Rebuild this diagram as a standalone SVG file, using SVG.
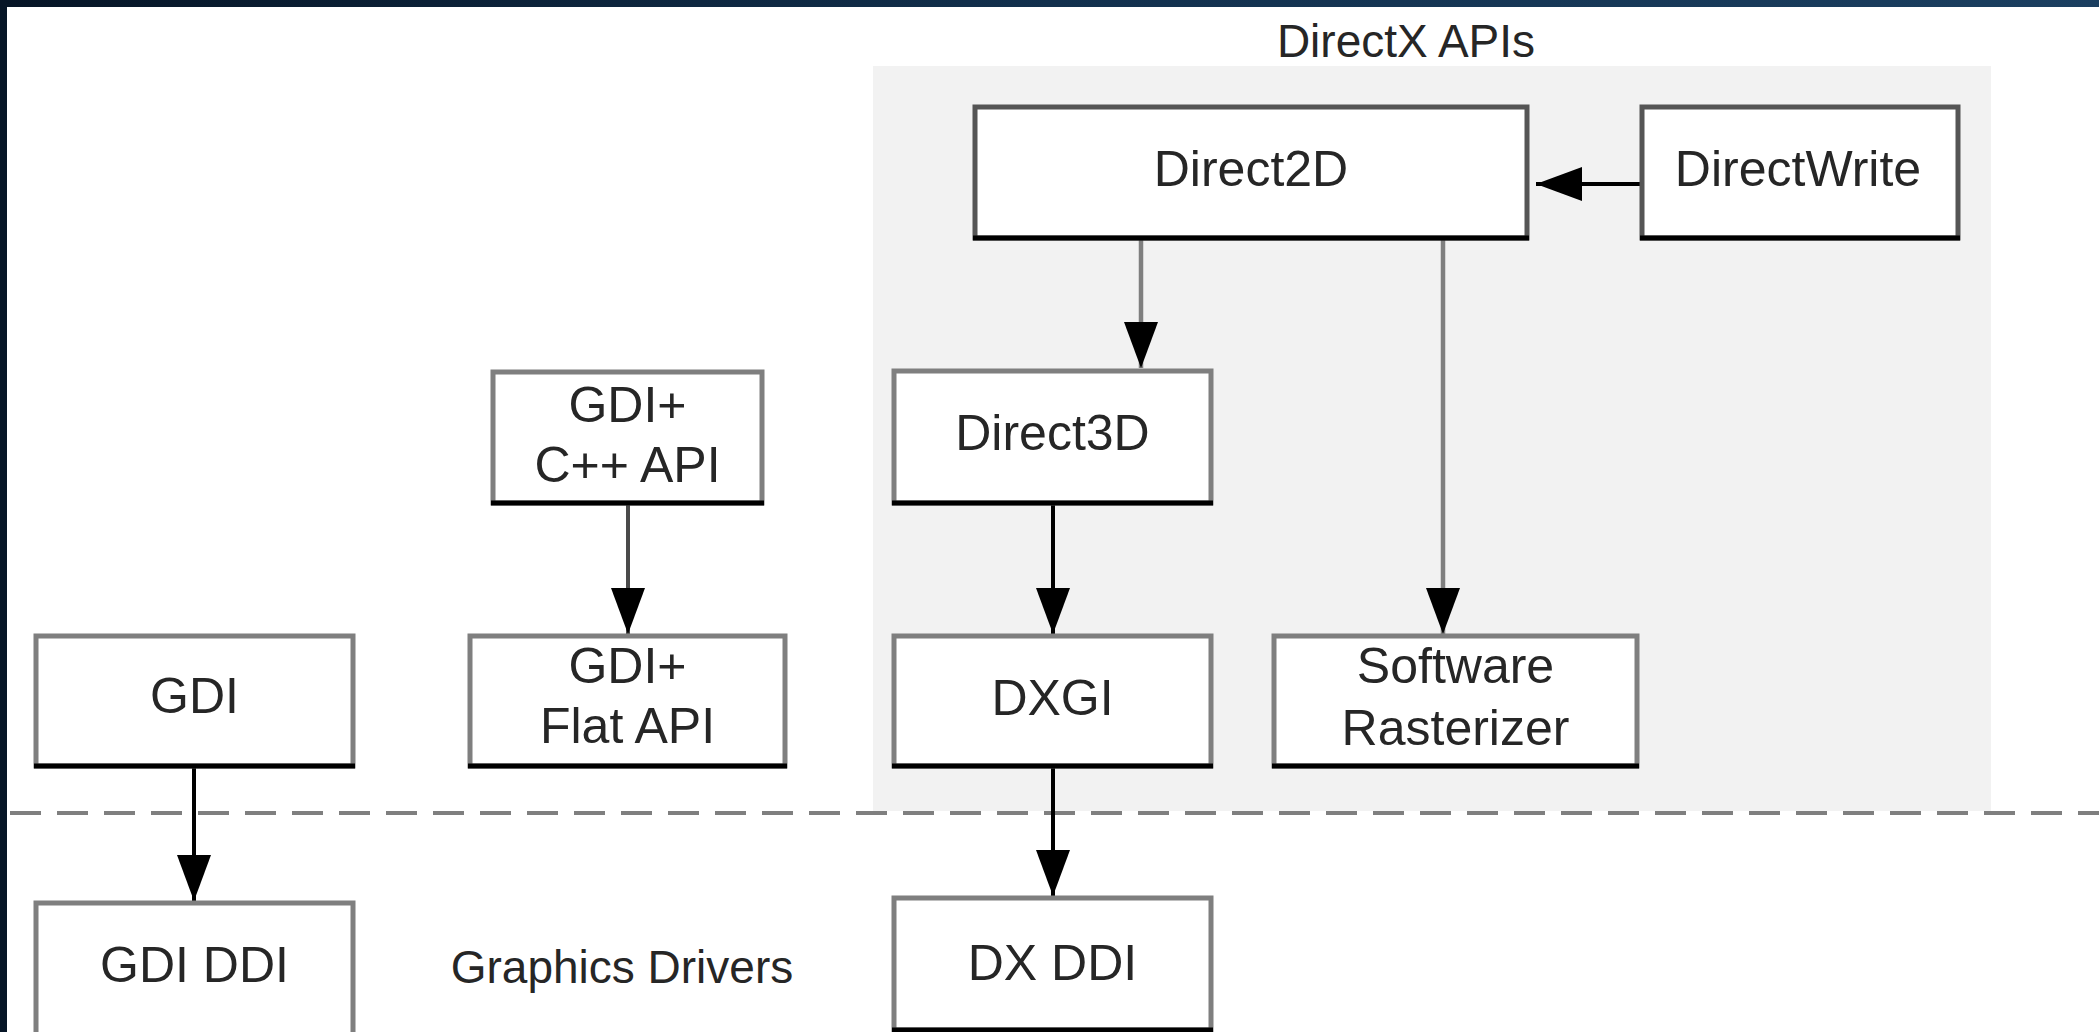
<svg xmlns="http://www.w3.org/2000/svg" width="2099" height="1032" viewBox="0 0 2099 1032">
  <defs>
    <linearGradient id="bg" x1="0" y1="0" x2="1" y2="0">
      <stop offset="0" stop-color="#061526"/>
      <stop offset="0.5" stop-color="#12304d"/>
      <stop offset="1" stop-color="#1b3f60"/>
    </linearGradient>
    <marker id="arrow" viewBox="0 0 46 34" refX="46" refY="17" markerWidth="46" markerHeight="34" markerUnits="userSpaceOnUse" orient="auto">
      <path d="M0,0 L46,17 L0,34 z" fill="#000"/>
    </marker>
    <style>
      .box { fill: #ffffff; stroke: #7f7f7f; stroke-width: 5; }
      .box.dark { stroke: #555555; }
      .bottom { stroke: #000000; stroke-width: 5; }
      .lbl { font-family: "Liberation Sans", Arial, sans-serif; font-size: 50px; fill: #262626; text-anchor: middle; }
      .cap { font-family: "Liberation Sans", Arial, sans-serif; font-size: 46px; fill: #262626; text-anchor: middle; }
      .conn { stroke: #000000; stroke-width: 4; fill: none; marker-end: url(#arrow); }
      .conn.gray { stroke: #7f7f7f; stroke-width: 4.5; }
      .conn.mid { stroke: #4a4a4a; }
    </style>
  </defs>

  <rect x="0" y="0" width="2099" height="1032" fill="url(#bg)"/>
  <rect x="7" y="7" width="2092" height="1025" fill="#ffffff"/>

  <g id="directx-region">
    <rect x="873" y="66" width="1118" height="745" fill="#f2f2f2"/>
    <text class="cap" x="1406" y="57">DirectX APIs</text>
  </g>

  <line id="kernel-divider" x1="10" y1="813" x2="2099" y2="813" stroke="#7f7f7f" stroke-width="4" stroke-dasharray="31 16"/>

  <text id="graphics-drivers-label" class="cap" x="622" y="983">Graphics Drivers</text>

  <g id="connectors">
    <line class="conn" x1="1642" y1="184" x2="1536" y2="184"/>
    <line class="conn gray" x1="1141" y1="238" x2="1141" y2="368"/>
    <line class="conn gray" x1="1443" y1="238" x2="1443" y2="634"/>
    <line class="conn mid" x1="628" y1="503" x2="628" y2="634"/>
    <line class="conn" x1="1053" y1="503" x2="1053" y2="634"/>
    <line class="conn" x1="194" y1="766" x2="194" y2="901"/>
    <line class="conn" x1="1053" y1="766" x2="1053" y2="896"/>
  </g>

  <g id="direct2d">
    <rect class="box dark" x="975" y="107" width="552" height="131"/>
    <line class="bottom" x1="973" y1="238" x2="1529" y2="238"/>
    <text class="lbl" x="1251" y="186">Direct2D</text>
  </g>

  <g id="directwrite">
    <rect class="box dark" x="1642" y="107" width="316" height="131"/>
    <line class="bottom" x1="1640" y1="238" x2="1960" y2="238"/>
    <text class="lbl" x="1798" y="186">DirectWrite</text>
  </g>

  <g id="gdiplus-cpp">
    <rect class="box" x="493" y="372" width="269" height="131"/>
    <line class="bottom" x1="491" y1="503" x2="764" y2="503"/>
    <text class="lbl" x="627.5" y="422">GDI+</text>
    <text class="lbl" x="627.5" y="482">C++ API</text>
  </g>

  <g id="direct3d">
    <rect class="box" x="894" y="371" width="317" height="132"/>
    <line class="bottom" x1="892" y1="503" x2="1213" y2="503"/>
    <text class="lbl" x="1052.5" y="450">Direct3D</text>
  </g>

  <g id="gdi">
    <rect class="box" x="36" y="636" width="317" height="130"/>
    <line class="bottom" x1="34" y1="766" x2="355" y2="766"/>
    <text class="lbl" x="194.5" y="713">GDI</text>
  </g>

  <g id="gdiplus-flat">
    <rect class="box" x="470" y="636" width="315" height="130"/>
    <line class="bottom" x1="468" y1="766" x2="787" y2="766"/>
    <text class="lbl" x="627.5" y="683">GDI+</text>
    <text class="lbl" x="627.5" y="743">Flat API</text>
  </g>

  <g id="dxgi">
    <rect class="box" x="894" y="636" width="317" height="130"/>
    <line class="bottom" x1="892" y1="766" x2="1213" y2="766"/>
    <text class="lbl" x="1052.5" y="715">DXGI</text>
  </g>

  <g id="software-rasterizer">
    <rect class="box" x="1274" y="636" width="363" height="130"/>
    <line class="bottom" x1="1272" y1="766" x2="1639" y2="766"/>
    <text class="lbl" x="1455.5" y="683">Software</text>
    <text class="lbl" x="1455.5" y="745">Rasterizer</text>
  </g>

  <g id="gdi-ddi">
    <rect class="box" x="36" y="903" width="317" height="140"/>
    <text class="lbl" x="194.5" y="982">GDI DDI</text>
  </g>

  <g id="dx-ddi">
    <rect class="box" x="894" y="898" width="317" height="132"/>
    <line class="bottom" x1="892" y1="1030" x2="1213" y2="1030"/>
    <text class="lbl" x="1052.5" y="980">DX DDI</text>
  </g>
</svg>
